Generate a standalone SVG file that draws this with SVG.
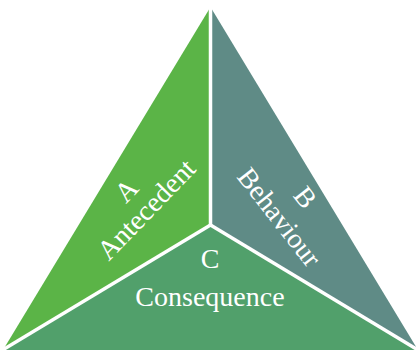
<svg xmlns="http://www.w3.org/2000/svg" width="416" height="350" viewBox="0 0 416 350">
  <style>
    .lbl { font-family: "Liberation Serif", "Times New Roman", serif; font-size: 28px; fill: #ffffff; text-anchor: middle; }
    .div { stroke: #ffffff; stroke-width: 3.5; fill: none; }
  </style>
  <rect width="416" height="350" fill="#ffffff"/>
  <g id="nodeA">
    <polygon points="210.5,7 210.5,225 3,350" fill="#5bb447"/>
    <text class="lbl" transform="translate(133,197) rotate(-46)">A</text>
    <text class="lbl" transform="translate(153,216) rotate(-46)">Antecedent</text>
  </g>
  <g id="nodeB">
    <polygon points="210.5,7 418,350 210.5,225" fill="#5f8b86"/>
    <text class="lbl" transform="translate(298,203) rotate(52)">B</text>
    <text class="lbl" transform="translate(272,223) rotate(52)">Behaviour</text>
  </g>
  <g id="nodeC">
    <polygon points="3,350 210.5,225 418,350" fill="#51a06b"/>
    <text class="lbl" x="210" y="268">C</text>
    <text class="lbl" x="210" y="306">Consequence</text>
  </g>
  <g id="connectors">
    <line class="div" x1="210.5" y1="0" x2="210.5" y2="225"/>
    <line class="div" x1="210.5" y1="225" x2="0" y2="351.5"/>
    <line class="div" x1="210.5" y1="225" x2="421" y2="351.8"/>
  </g>
</svg>
